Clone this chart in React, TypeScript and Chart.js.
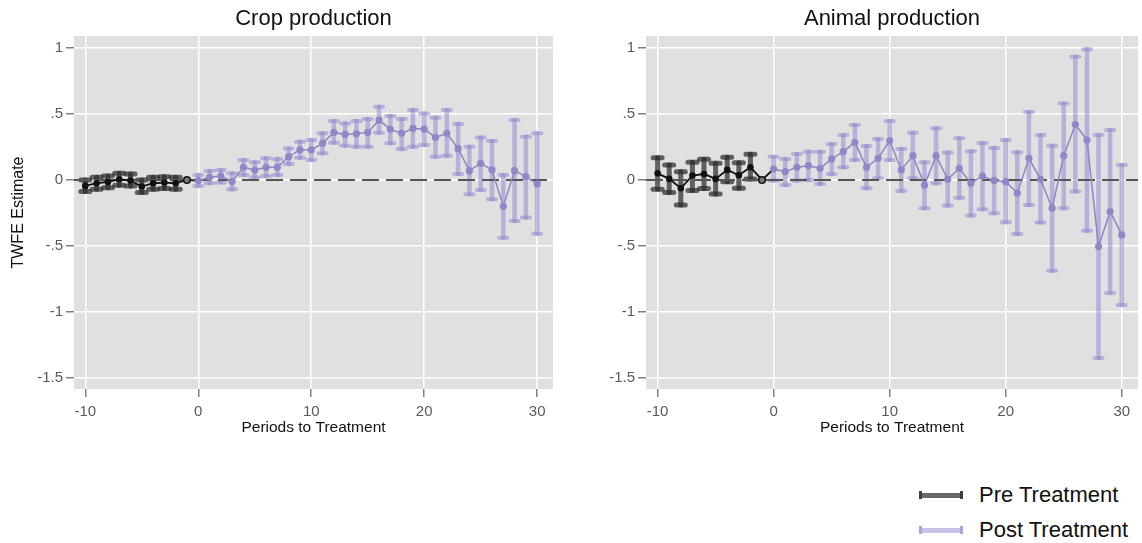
import React, { useEffect, useRef } from "react";
import { Chart, registerables } from "chart.js";

Chart.register(...registerables);

// ---------- data ----------
const prePeriods = [-10, -9, -8, -7, -6, -5, -4, -3, -2, -1];
const postPeriods = [0, 1, 2, 3, 4, 5, 6, 7, 8, 9, 10, 11, 12, 13, 14, 15, 16, 17, 18, 19, 20, 21, 22, 23, 24, 25, 26, 27, 28, 29, 30];

const cropPreEst = [-0.045, -0.025, -0.015, 0.005, -0.005, -0.05, -0.025, -0.02, -0.025, 0];
const cropPreHi = [0.0, 0.02, 0.03, 0.05, 0.045, 0.0, 0.02, 0.025, 0.02, null];
const cropPreLo = [-0.088, -0.07, -0.06, -0.04, -0.045, -0.096, -0.07, -0.065, -0.07, null];

const cropPostEst = [-0.005, 0.02, 0.03, -0.012, 0.096, 0.075, 0.096, 0.096, 0.176, 0.227, 0.227, 0.277, 0.36, 0.345, 0.35, 0.36, 0.453, 0.383, 0.353, 0.39, 0.385, 0.322, 0.353, 0.237, 0.07, 0.126, 0.076, -0.2, 0.07, 0.025, -0.03];
const cropPostHi = [0.038, 0.068, 0.076, 0.05, 0.151, 0.134, 0.164, 0.159, 0.239, 0.29, 0.302, 0.353, 0.446, 0.428, 0.446, 0.461, 0.554, 0.484, 0.461, 0.529, 0.504, 0.471, 0.529, 0.423, 0.252, 0.322, 0.295, 0.038, 0.453, 0.327, 0.353];
const cropPostLo = [-0.045, -0.025, -0.02, -0.07, 0.038, 0.018, 0.03, 0.038, 0.121, 0.169, 0.151, 0.202, 0.282, 0.259, 0.252, 0.252, 0.358, 0.277, 0.234, 0.252, 0.264, 0.176, 0.184, 0.045, -0.108, -0.076, -0.146, -0.438, -0.31, -0.285, -0.408];

const animalPreEst = [0.05, 0.008, -0.063, 0.033, 0.045, 0.008, 0.076, 0.035, 0.096, 0];
const animalPreHi = [0.169, 0.113, 0.063, 0.134, 0.156, 0.126, 0.171, 0.131, 0.194, null];
const animalPreLo = [-0.07, -0.096, -0.189, -0.08, -0.065, -0.106, -0.013, -0.063, 0.008, null];

const animalPostEst = [0.083, 0.063, 0.096, 0.108, 0.088, 0.159, 0.214, 0.285, 0.096, 0.164, 0.297, 0.076, 0.184, -0.04, 0.184, 0.005, 0.088, -0.025, 0.03, -0.005, -0.013, -0.1, 0.164, 0.005, -0.214, 0.184, 0.42, 0.302, -0.504, -0.239, -0.416];
const animalPostHi = [0.176, 0.159, 0.196, 0.214, 0.214, 0.272, 0.34, 0.416, 0.257, 0.31, 0.446, 0.234, 0.358, 0.134, 0.391, 0.207, 0.315, 0.217, 0.28, 0.242, 0.302, 0.209, 0.514, 0.34, 0.259, 0.579, 0.932, 0.99, 0.34, 0.378, 0.113];
const animalPostLo = [-0.005, -0.038, -0.005, 0.0, -0.03, 0.045, 0.096, 0.151, -0.063, 0.013, 0.151, -0.083, 0.013, -0.214, -0.025, -0.194, -0.134, -0.27, -0.222, -0.252, -0.32, -0.41, -0.189, -0.322, -0.688, -0.214, -0.088, -0.385, -1.348, -0.856, -0.947];

const xTicks = [-10, 0, 10, 20, 30];
const yTicks = [-1.5, -1, -0.5, 0, 0.5, 1];
const X_MIN = -11;
const X_MAX = 31.4;
const Y_MIN = -1.583;
const Y_MAX = 1.09;

const panelTitles = ["Crop production", "Animal production"];
const yAxisTitle = "TWFE Estimate";
const xAxisTitle = "Periods to Treatment";
const legendLabels = ["Pre Treatment", "Post Treatment"];

// ---------- styles ----------
const FONT = "'Liberation Sans', Arial, sans-serif";
const PLOT_BG = "#e0e0e0";
const PRE_CI = "rgba(40,40,40,0.7)";
const POST_CI = "rgba(140,130,205,0.5)";
const POST_LINE = "#8d86c3";
const POST_POINT = "#8f88c6";

const fmt = (v: number) => (v === 0 ? "0" : String(v).replace("0.", "."));

const bgPlugin = {
  id: "plotbg",
  beforeDraw(chart: any) {
    const { ctx, chartArea } = chart;
    ctx.save();
    ctx.fillStyle = PLOT_BG;
    ctx.fillRect(chartArea.left, chartArea.top, chartArea.right - chartArea.left, chartArea.bottom - chartArea.top);
    ctx.restore();
  },
};

const errorBarPlugin = {
  id: "errbars",
  beforeDatasetsDraw(chart: any) {
    const ctx = chart.ctx;
    const xs = chart.scales.x;
    const ys = chart.scales.y;
    chart.data.datasets.forEach((ds: any) => {
      if (!ds.errLo) return;
      ctx.save();
      ctx.strokeStyle = ds.errColor;
      ctx.lineCap = "round";
      ds.data.forEach((pt: any, i: number) => {
        const lo = ds.errLo[i];
        const hi = ds.errHi[i];
        if (lo == null || hi == null) return;
        const px = xs.getPixelForValue(pt.x);
        const pLo = ys.getPixelForValue(lo);
        const pHi = ys.getPixelForValue(hi);
        ctx.lineWidth = ds.errWidth;
        ctx.beginPath();
        ctx.moveTo(px, pLo);
        ctx.lineTo(px, pHi);
        ctx.stroke();
        ctx.lineWidth = ds.capThick;
        [pLo, pHi].forEach((py) => {
          ctx.beginPath();
          ctx.moveTo(px - ds.capHalf, py);
          ctx.lineTo(px + ds.capHalf, py);
          ctx.stroke();
        });
      });
      ctx.restore();
    });
  },
};

function makeConfig(
  title: string,
  showYTitle: boolean,
  padRight: number,
  preEst: (number | null)[],
  preLo: (number | null)[],
  preHi: (number | null)[],
  postEst: number[],
  postLo: number[],
  postHi: number[]
): any {
  // pre-treatment line continues to period 0 (without a marker there)
  const preData = prePeriods.map((p, i) => ({ x: p, y: preEst[i] }));
  preData.push({ x: postPeriods[0], y: postEst[0] });
  const preLoAll = [...preLo, null];
  const preHiAll = [...preHi, null];
  const preRadius = preData.map((_, i) => (i === preData.length - 1 ? 0 : 3.3));
  const preBg = preData.map((_, i) => (i === prePeriods.length - 1 ? "#7a7a7a" : "#111"));
  const preBorderW = preData.map((_, i) => (i === prePeriods.length - 1 ? 1.5 : 0));

  const postData = postPeriods.map((p, i) => ({ x: p, y: postEst[i] }));

  return {
    type: "line",
    data: {
      datasets: [
        {
          label: "zero",
          data: [
            { x: X_MIN, y: 0 },
            { x: X_MAX, y: 0 },
          ],
          borderColor: "#555",
          borderWidth: 2,
          borderDash: [17, 7],
          pointRadius: 0,
          order: 10,
        },
        {
          label: legendLabels[0],
          data: preData,
          borderColor: "#111",
          borderWidth: 1.8,
          pointRadius: preRadius,
          pointBackgroundColor: preBg,
          pointBorderColor: "#111",
          pointBorderWidth: preBorderW,
          errLo: preLoAll,
          errHi: preHiAll,
          errColor: PRE_CI,
          errWidth: 5,
          capThick: 5,
          capHalf: 4.5,
          order: 1,
        },
        {
          label: legendLabels[1],
          data: postData,
          borderColor: POST_LINE,
          borderWidth: 1.5,
          pointRadius: 3.6,
          pointBackgroundColor: POST_POINT,
          pointBorderWidth: 0,
          errLo: postLo,
          errHi: postHi,
          errColor: POST_CI,
          errWidth: 4.5,
          capThick: 4,
          capHalf: 4,
          order: 0,
        },
      ],
    },
    options: {
      animation: false,
      responsive: false,
      layout: { padding: { left: 0, right: padRight, top: 0, bottom: 0 } },
      plugins: {
        legend: { display: false },
        tooltip: { enabled: false },
        title: {
          display: true,
          text: title,
          fullSize: false,
          color: "#111",
          font: { family: FONT, size: 22, weight: "normal", lineHeight: 1.2 },
          padding: { top: 6, bottom: 3.6 },
        },
      },
      scales: {
        x: {
          type: "linear",
          min: X_MIN,
          max: X_MAX,
          afterBuildTicks: (scale: any) => {
            scale.ticks = xTicks.map((v) => ({ value: v }));
          },
          afterFit: (scale: any) => {
            scale.height = 61;
          },
          ticks: {
            autoSkip: false,
            maxRotation: 0,
            padding: 6,
            color: "#5a5a5a",
            font: { family: FONT, size: 15 },
            callback: (v: any) => fmt(Number(v)),
          },
          grid: {
            color: "#ffffff",
            lineWidth: 1.5,
            drawTicks: true,
            tickLength: 8,
            tickColor: "#808080",
            tickWidth: 1.5,
          },
          border: { display: false },
          title: {
            display: true,
            text: xAxisTitle,
            color: "#111",
            font: { family: FONT, size: 15.5, lineHeight: 1.2 },
            padding: { top: 0, bottom: 12.5 },
          },
        },
        y: {
          type: "linear",
          min: Y_MIN,
          max: Y_MAX,
          afterBuildTicks: (scale: any) => {
            scale.ticks = yTicks.map((v) => ({ value: v }));
          },
          afterFit: (scale: any) => {
            scale.width = 74;
          },
          ticks: {
            autoSkip: false,
            padding: 3,
            color: "#5a5a5a",
            font: { family: FONT, size: 15 },
            callback: (v: any) => fmt(Number(v)),
          },
          grid: {
            color: "#ffffff",
            lineWidth: 1.5,
            drawTicks: true,
            tickLength: 8,
            tickColor: "#808080",
            tickWidth: 1.5,
          },
          border: { display: false },
          title: {
            display: showYTitle,
            text: yAxisTitle,
            color: "#111",
            font: { family: FONT, size: 16, lineHeight: 1.2 },
            padding: { top: 9, bottom: 0 },
          },
        },
      },
    },
    plugins: [bgPlugin, errorBarPlugin],
  };
}

function LegendRow({ top, label, bar, cap }: { top: number; label: string; bar: string; cap: string }) {
  return (
    <div style={{ position: "absolute", left: 0, top: 0 }}>
      <div style={{ position: "absolute", left: 919, top: top - 2.5, width: 44, height: 5, background: bar }} />
      <div style={{ position: "absolute", left: 919, top: top - 4, width: 3, height: 8, background: cap }} />
      <div style={{ position: "absolute", left: 960, top: top - 4, width: 3, height: 8, background: cap }} />
      <div
        style={{
          position: "absolute",
          left: 979,
          top: top - 12.7,
          fontFamily: FONT,
          fontSize: 22,
          lineHeight: "26px",
          color: "#111",
          whiteSpace: "nowrap",
        }}
      >
        {label}
      </div>
    </div>
  );
}

export default function App() {
  const leftRef = useRef<HTMLCanvasElement | null>(null);
  const rightRef = useRef<HTMLCanvasElement | null>(null);

  useEffect(() => {
    const charts: Chart[] = [];
    if (leftRef.current) {
      charts.push(
        new Chart(
          leftRef.current,
          makeConfig(panelTitles[0], true, 7, cropPreEst, cropPreLo, cropPreHi, cropPostEst, cropPostLo, cropPostHi)
        )
      );
    }
    if (rightRef.current) {
      charts.push(
        new Chart(
          rightRef.current,
          makeConfig(panelTitles[1], false, 1, animalPreEst, animalPreLo, animalPreHi, animalPostEst, animalPostLo, animalPostHi)
        )
      );
    }
    return () => charts.forEach((c) => c.destroy());
  }, []);

  return (
    <div style={{ position: "absolute", left: 0, top: 0, width: 1142, height: 543, background: "#fff", overflow: "hidden" }}>
      <canvas ref={leftRef} width={560} height={450} style={{ position: "absolute", left: 0, top: 0, width: 560, height: 450 }} />
      <canvas ref={rightRef} width={570} height={450} style={{ position: "absolute", left: 572, top: 0, width: 570, height: 450 }} />
      <LegendRow top={495} label={legendLabels[0]} bar="#686868" cap="#404040" />
      <LegendRow top={530} label={legendLabels[1]} bar="#c6c2e8" cap="#aaa4da" />
    </div>
  );
}
